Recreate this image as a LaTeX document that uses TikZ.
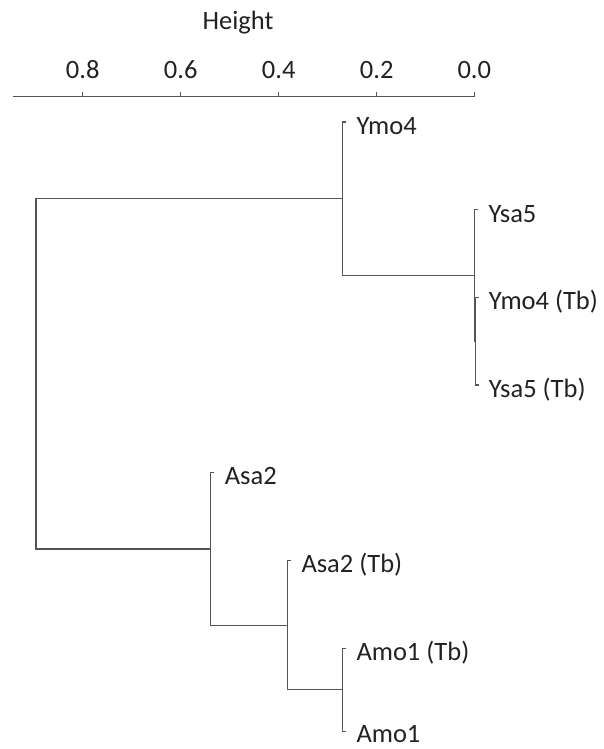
\documentclass[tikz,border=0pt]{standalone}
\usepackage{fontspec}
\setmainfont{Carlito}
\definecolor{linegray}{HTML}{555555}
\definecolor{textdark}{HTML}{222222}
\begin{document}
\begin{tikzpicture}[x=1pt,y=-1pt,
  branch/.style={draw=linegray, line width=1.3pt, line cap=rect},
  axisline/.style={draw=linegray, line width=1.2pt},
  lbl/.style={anchor=base west, inner sep=0pt, text=textdark, font=\fontsize{26.5}{31}\selectfont},
  ticklbl/.style={anchor=base, inner sep=0pt, text=textdark, font=\fontsize{26.5}{31}\selectfont}]
\useasboundingbox (0,0) rectangle (603,749);

% axis
\coordinate (ax0) at (13,96.7);
\coordinate (ax1) at (474.3,96.7);
\draw[axisline] (ax0) -- (ax1);
\foreach \x/\t/\n in {82.7/0.8/a, 180.7/0.6/b, 278.7/0.4/c, 376.7/0.2/d, 474.3/0.0/e}{
  \coordinate (tk\n) at (\x,96.7);
  \coordinate (tt\n) at (\x,92.5);
  \draw[axisline] (tk\n) -- (tt\n);
  \node[ticklbl] (tl\n) at (\x,78.3) {\t};
}
\node[ticklbl] (height) at (238,29.3) {Height};

% merge points
\coordinate (root) at (36,374.2);
\coordinate (Y)    at (342.3,198.8);
\coordinate (Ys)   at (474.3,275.5);
\coordinate (Yi)   at (475.6,341.3);
\coordinate (A)    at (210.7,549.0);
\coordinate (Ab)   at (287.3,625.2);
\coordinate (Am)   at (342.3,689.8);

% leaves (end of short stubs)
\coordinate (l1) at (345.3,122.0);
\coordinate (l2) at (477.3,209.7);
\coordinate (l3) at (478.6,297.4);
\coordinate (l4) at (478.6,385.1);
\coordinate (l5) at (213.7,472.8);
\coordinate (l6) at (290.3,560.5);
\coordinate (l7) at (345.3,648.2);
\coordinate (l8) at (345.3,731.4);

% branches
\draw[branch] (Y) -| (root) |- (A);
\draw[branch] (l1) -| (Y) |- (Ys);
\draw[branch] (l2) -| (Ys) |- (Yi);
\draw[branch] (l3) -| (Yi) |- (l4);
\draw[branch] (l5) -| (A) |- (Ab);
\draw[branch] (l6) -| (Ab) |- (Am);
\draw[branch] (l7) -| (Am) |- (l8);

% labels
\node[lbl] (t1) at ([xshift=11pt,yshift=-12.5pt]l1) {Ymo4};
\node[lbl] (t2) at ([xshift=11pt,yshift=-12.5pt]l2) {Ysa5};
\node[lbl] (t3) at ([xshift=10pt,yshift=-12.5pt]l3) {Ymo4 (Tb)};
\node[lbl] (t4) at ([xshift=10pt,yshift=-12.5pt]l4) {Ysa5 (Tb)};
\node[lbl] (t5) at ([xshift=11pt,yshift=-12pt]l5) {Asa2};
\node[lbl] (t6) at ([xshift=11pt,yshift=-12pt]l6) {Asa2 (Tb)};
\node[lbl] (t7) at ([xshift=11pt,yshift=-12pt]l7) {Amo1 (Tb)};
\node[lbl] (t8) at ([xshift=11pt,yshift=-11.5pt]l8) {Amo1};
\end{tikzpicture}
\end{document}
